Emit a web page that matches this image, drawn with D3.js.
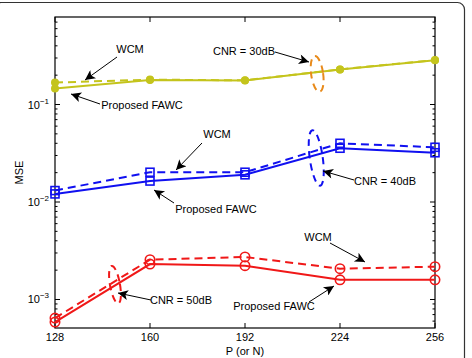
<!DOCTYPE html>
<html>
<head>
<meta charset="utf-8">
<script src="https://cdn.jsdelivr.net/npm/d3@7"></script>
<style>
  body { margin: 0; background: #fff; }
  text { font-family: "Liberation Sans", Arial, sans-serif; }
</style>
</head>
<body>
<svg width="472" height="358"></svg>
<script>
const svg = d3.select("svg")
const width = +svg.attr("width")
const height = +svg.attr("height")

// P (or N)
const pValues = [128, 160, 192, 224, 256]

// CNR = 30dB
const fawc30 = [0.146, 0.178, 0.176, 0.228, 0.284]
const wcm30 = [0.168, 0.180, 0.177, 0.229, 0.286]
// CNR = 40dB
const fawc40 = [0.0121, 0.0164, 0.0190, 0.0356, 0.0320]
const wcm40 = [0.0131, 0.0202, 0.0202, 0.0400, 0.0364]
// CNR = 50dB
const fawc50 = [0.000587, 0.00231, 0.00222, 0.00159, 0.00159]
const wcm50 = [0.000645, 0.00256, 0.00273, 0.00207, 0.00217]

const yTicks = [1e-3, 1e-2, 1e-1]

const margin = { left: 55, right: 37, top: 17, bottom: 30 }

const x = d3.scaleLinear()
    .domain([128, 256])
    .range([margin.left, width - margin.right])
const y = d3.scaleLog()
    .domain([5.1e-4, 0.79])
    .range([height - margin.bottom, margin.top])

// outer frame of the figure
svg.append("rect")
    .attr("x", -6).attr("y", 2.5)
    .attr("width", 470.5).attr("height", 370)
    .attr("rx", 7)
    .attr("fill", "none")
    .attr("stroke", "#333")
    .attr("stroke-width", 1.2)

const x0 = x.range()[0], x1 = x.range()[1]
const y0 = y.range()[0], y1 = y.range()[1]

// ticks, MATLAB style (inward, on every side)
const tickG = svg.append("g").attr("stroke", "#000").attr("stroke-width", 1)
pValues.forEach(v => {
    tickG.append("line").attr("x1", x(v)).attr("x2", x(v)).attr("y1", y0).attr("y2", y0 - 5)
    tickG.append("line").attr("x1", x(v)).attr("x2", x(v)).attr("y1", y1).attr("y2", y1 + 5)
})
const minor = []
for (let e = -4; e <= -1; e++) {
    for (let k = 1; k <= 9; k++) {
        const v = k * Math.pow(10, e)
        if (v >= y.domain()[0] && v <= y.domain()[1]) minor.push(v)
    }
}
minor.forEach(v => {
    const len = yTicks.includes(v) ? 5 : 2.5
    tickG.append("line").attr("x1", x0).attr("x2", x0 + len).attr("y1", y(v)).attr("y2", y(v))
    tickG.append("line").attr("x1", x1).attr("x2", x1 - len).attr("y1", y(v)).attr("y2", y(v))
})

svg.append("rect")
    .attr("x", x0).attr("y", y1)
    .attr("width", x1 - x0).attr("height", y0 - y1)
    .attr("fill", "none")
    .attr("stroke", "#000")
    .attr("stroke-width", 1.2)

// tick labels
svg.append("g").selectAll("text")
    .data(pValues)
    .join("text")
    .attr("x", d => x(d))
    .attr("y", y0 + 13)
    .attr("text-anchor", "middle")
    .attr("font-size", 11)
    .text(d => d)

const yl = svg.append("g").selectAll("text")
    .data(yTicks)
    .join("text")
    .attr("x", x0 - 6)
    .attr("y", d => y(d) + 4)
    .attr("text-anchor", "end")
    .attr("font-size", 11)
yl.append("tspan").text("10")
yl.append("tspan").attr("dy", -5).attr("font-size", 8).text(d => "\u2212" + Math.round(-Math.log10(d)))

svg.append("text")
    .attr("transform", `translate(23, ${(y0 + y1) / 2}) rotate(-90)`)
    .attr("text-anchor", "middle")
    .attr("font-size", 11)
    .text("MSE")
svg.append("text")
    .attr("x", (x0 + x1) / 2)
    .attr("y", 355)
    .attr("text-anchor", "middle")
    .attr("font-size", 11)
    .text("P (or N)")

// curves
const line = d3.line().x((d, i) => x(pValues[i])).y(d => y(d))

const series = [
    { vals: fawc30, color: "#c4c41c", dash: null, marker: "dot" },
    { vals: wcm30, color: "#c4c41c", dash: "8,5", marker: "dot" },
    { vals: fawc40, color: "#1010f0", dash: null, marker: "square" },
    { vals: wcm40, color: "#1010f0", dash: "8,5", marker: "square" },
    { vals: fawc50, color: "#f01818", dash: null, marker: "circle" },
    { vals: wcm50, color: "#f01818", dash: "8,5", marker: "circle" }
]

const plot = svg.append("g")
series.forEach(s => {
    plot.append("path")
        .datum(s.vals)
        .attr("d", line)
        .attr("fill", "none")
        .attr("stroke", s.color)
        .attr("stroke-width", 2)
        .attr("stroke-dasharray", s.dash)
    s.vals.forEach((v, i) => {
        const cx = x(pValues[i]), cy = y(v)
        if (s.marker === "dot") {
            plot.append("circle").attr("cx", cx).attr("cy", cy).attr("r", 4)
                .attr("fill", s.color)
        } else if (s.marker === "square") {
            plot.append("rect").attr("x", cx - 4).attr("y", cy - 4)
                .attr("width", 8).attr("height", 8)
                .attr("fill", "none").attr("stroke", s.color).attr("stroke-width", 1.6)
        } else {
            plot.append("circle").attr("cx", cx).attr("cy", cy).attr("r", 4.7)
                .attr("fill", "none").attr("stroke", s.color).attr("stroke-width", 1.6)
        }
    })
})

// CNR ellipses
const ellipses = [
    { p: 216.3, v: 0.206, rx: 6, ry: 18, rot: -8, color: "#e88a1a" },
    { p: 216, v: 0.0283, rx: 6.5, ry: 28, rot: -8, color: "#1010f0" },
    { p: 148.2, v: 0.00142, rx: 5, ry: 19, rot: -10, color: "#f01818" }
]
ellipses.forEach(e => {
    svg.append("ellipse")
        .attr("transform", `translate(${x(e.p)}, ${y(e.v)}) rotate(${e.rot})`)
        .attr("rx", e.rx).attr("ry", e.ry)
        .attr("fill", "none")
        .attr("stroke", e.color)
        .attr("stroke-width", 2)
        .attr("stroke-dasharray", "7,5")
})

// annotations: text plus arrow
svg.append("defs").append("marker")
    .attr("id", "head")
    .attr("viewBox", "0 0 10 10")
    .attr("refX", 10).attr("refY", 5)
    .attr("markerWidth", 13).attr("markerHeight", 10)
    .attr("markerUnits", "userSpaceOnUse")
    .attr("orient", "auto")
    .append("path").attr("d", "M0,0 L10,5 L0,10 L2.5,5 Z").attr("fill", "#000")

const notes = [
    { t: "WCM", tx: 130, ty: 53, from: [117, 57], to: [85, 80] },
    { t: "Proposed FAWC", tx: 142, ty: 109, from: [100, 104], to: [71, 94] },
    { t: "CNR = 30dB", tx: 244, ty: 55, from: [275, 52], to: [309, 62] },
    { t: "WCM", tx: 217, ty: 138, from: [202, 143], to: [176, 170] },
    { t: "Proposed FAWC", tx: 216, ty: 213, from: [174, 203], to: [154, 190] },
    { t: "CNR = 40dB", tx: 385, ty: 185, from: [354, 180], to: [323, 171] },
    { t: "CNR = 50dB", tx: 181, ty: 304, from: [151, 300], to: [118, 293] },
    { t: "WCM", tx: 318, ty: 241, from: [330, 243], to: [365, 262] },
    { t: "Proposed FAWC", tx: 274, ty: 310, from: [309, 302], to: [334, 286] }
]
notes.forEach(n => {
    svg.append("text")
        .attr("x", n.tx).attr("y", n.ty)
        .attr("text-anchor", "middle")
        .attr("font-size", 11)
        .text(n.t)
    svg.append("line")
        .attr("x1", n.from[0]).attr("y1", n.from[1])
        .attr("x2", n.to[0]).attr("y2", n.to[1])
        .attr("stroke", "#000")
        .attr("stroke-width", 1)
        .attr("marker-end", "url(#head)")
})
</script>
</body>
</html>
